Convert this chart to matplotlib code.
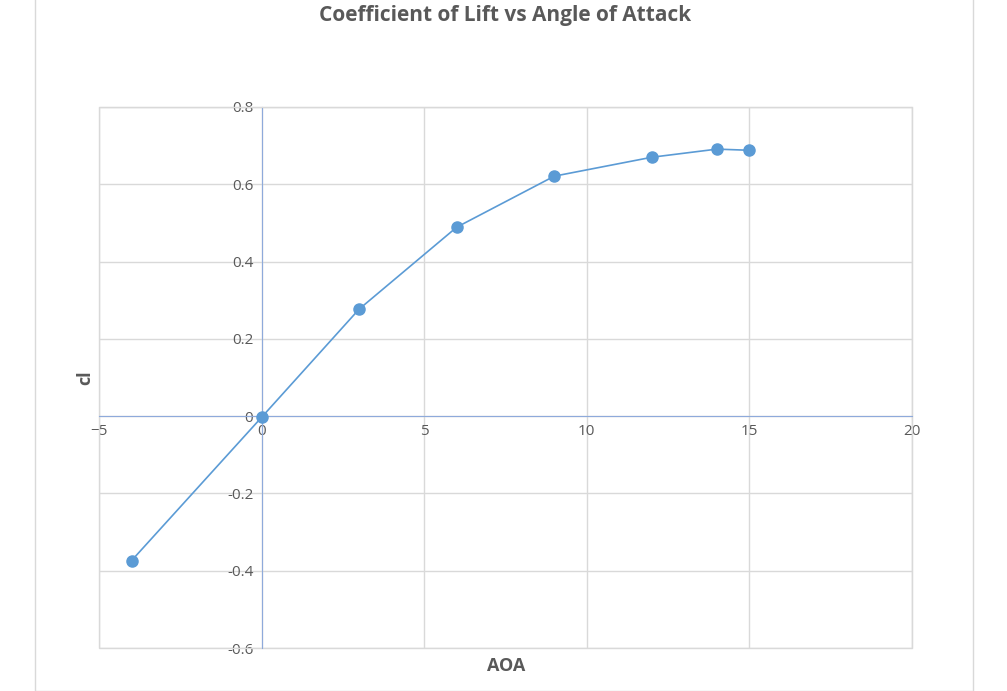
import matplotlib.pyplot as plt
from matplotlib.patches import Rectangle

aoa = [-4, 0, 3, 6, 9, 12, 14, 15]
cl = [-0.374, -0.003, 0.277, 0.489, 0.621, 0.670, 0.691, 0.688]

plt.rcParams['font.family'] = ['Open Sans', 'DejaVu Sans']

W, H = 1007, 691
fig = plt.figure(figsize=(W / 100, H / 100), dpi=100)
fig.patches.append(Rectangle((35 / W, 0), (973 - 35) / W, 1.2, transform=fig.transFigure,
                             fill=False, edgecolor='#d9d9d9', linewidth=1))
ax = fig.add_axes([99 / W, (H - 648) / H, (912 - 99) / W, (648 - 107) / H])

blue = '#5b9bd5'
ax.plot(aoa, cl, color=blue, linewidth=1.2, marker='o', markersize=8, zorder=3)

ax.set_xlim(-5, 20)
ax.set_ylim(-0.6, 0.8)
ax.set_xticks(range(-5, 21, 5))
ax.set_yticks([-0.6, -0.4, -0.2, 0, 0.2, 0.4, 0.6, 0.8])
ax.set_yticklabels(['-0.6', '-0.4', '-0.2', '0', '0.2', '0.4', '0.6', '0.8'])
ax.grid(True, color='#d9d9d9', linewidth=1)
ax.set_axisbelow(True)
for s in ax.spines.values():
    s.set_color('#d9d9d9')
ax.spines['left'].set_position(('data', 0))
ax.spines['bottom'].set_position(('data', 0))
ax.spines['left'].set_color('#8eaadb')
ax.spines['bottom'].set_color('#8eaadb')
# outer plot-area border
ax.add_patch(Rectangle((0, 0), 1, 1, transform=ax.transAxes, fill=False,
                       edgecolor='#d9d9d9', linewidth=1, clip_on=False))
ax.tick_params(length=0, labelsize=11, colors='#595959', pad=6)

ax.set_title('Coefficient of Lift vs Angle of Attack', fontsize=15, fontweight='bold',
             color='#595959', pad=62)
fig.text(506 / W, 1 - 666 / H, 'AOA', ha='center', va='center', fontsize=13,
         fontweight='bold', color='#595959')
fig.text(85 / W, 1 - 378 / H, 'cl', ha='center', va='center', rotation=90,
         fontsize=13, fontweight='bold', color='#595959')

fig.savefig('out.png', dpi=100)
